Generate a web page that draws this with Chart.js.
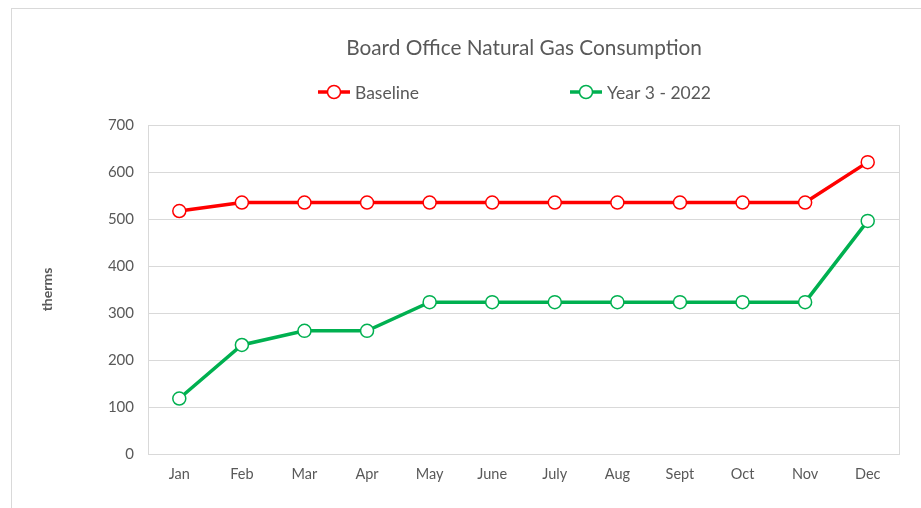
<!DOCTYPE html>
<html>
<head>
<meta charset="utf-8">
<script src="https://cdn.jsdelivr.net/npm/chart.js@4/dist/chart.umd.min.js"></script>
<style>
    body { margin: 0; background: #fff; overflow: hidden; width: 921px; height: 508px; position: relative; }
    #wrap { position: absolute; left: 11px; top: 8px; width: 1025px; height: 510px; border-left: 1px solid #d9d9d9; border-top: 1px solid #d9d9d9; }
    #chart { display: block; }
</style>
</head>
<body>
<div id="wrap"><canvas id="chart" width="1024" height="499"></canvas></div>

<script>
let months = ['Jan', 'Feb', 'Mar', 'Apr', 'May', 'June', 'July', 'Aug', 'Sept', 'Oct', 'Nov', 'Dec'];
let baseline = [517, 535, 535, 535, 535, 535, 535, 535, 535, 535, 535, 621];
let year3 = [118, 232, 262, 262, 323, 323, 323, 323, 323, 323, 323, 496];
let seriesNames = ['Baseline', 'Year 3 - 2022'];
let seriesColors = ['#ff0000', '#00b050'];
let yTicks = [0, 100, 200, 300, 400, 500, 600, 700];

const FONT = 'Lato, "Open Sans", sans-serif';
const GREY = '#595959';


// title, legend and the right border of the plot area
const decorPlugin = {
    id: 'decor',
    afterDraw(chart) {
        const ctx = chart.ctx;
        const area = chart.chartArea;
        ctx.save();
        ctx.strokeStyle = '#d9d9d9';
        ctx.lineWidth = 1;
        ctx.beginPath();
        ctx.moveTo(Math.round(area.right) + 0.5, area.top);
        ctx.lineTo(Math.round(area.right) + 0.5, area.bottom);
        ctx.stroke();

        ctx.fillStyle = GREY;
        ctx.font = '20.8px ' + FONT;
        ctx.textAlign = 'center';
        ctx.textBaseline = 'middle';
        ctx.fillText('Board Office Natural Gas Consumption', 512, 39);

        drawLegendItem(ctx, 306, 83, seriesColors[0], seriesNames[0]);
        drawLegendItem(ctx, 558, 83, seriesColors[1], seriesNames[1]);
        ctx.restore();
    }
};


function drawLegendItem(ctx, x, y, color, text) {
    ctx.strokeStyle = color;
    ctx.lineWidth = 3.5;
    ctx.beginPath();
    ctx.moveTo(x, y);
    ctx.lineTo(x + 32, y);
    ctx.stroke();
    ctx.beginPath();
    ctx.arc(x + 16, y, 6.5, 0, Math.PI * 2);
    ctx.fillStyle = '#fff';
    ctx.fill();
    ctx.lineWidth = 1.5;
    ctx.stroke();
    ctx.fillStyle = GREY;
    ctx.font = '17.5px ' + FONT;
    ctx.textAlign = 'left';
    ctx.textBaseline = 'middle';
    ctx.fillText(text, x + 37, y + 1);
}


function makeDataset(label, values, color) {
    return {
        label: label,
        data: values,
        borderColor: color,
        borderWidth: 3.5,
        pointRadius: 6.5,
        pointHoverRadius: 6.5,
        pointBackgroundColor: '#fff',
        pointBorderColor: color,
        pointBorderWidth: 1.5,
        tension: 0
    };
}


function init() {
    const ctx = document.getElementById('chart').getContext('2d');
    new Chart(ctx, {
        type: 'line',
        data: {
            labels: months,
            datasets: [
                makeDataset(seriesNames[0], baseline, seriesColors[0]),
                makeDataset(seriesNames[1], year3, seriesColors[1])
            ]
        },
        options: {
            responsive: false,
            animation: false,
            layout: { padding: { top: 116, right: 137, left: 0, bottom: 0 } },
            plugins: {
                legend: { display: false },
                title: { display: false },
                tooltip: { enabled: false }
            },
            scales: {
                x: {
                    offset: true,
                    grid: { display: false, drawTicks: false },
                    border: { display: true, color: '#d9d9d9', width: 1 },
                    ticks: { color: GREY, font: { family: FONT, size: 14.5 }, padding: 12 },
                    afterFit(scale) { scale.height = 54; }
                },
                y: {
                    min: yTicks[0],
                    max: yTicks[yTicks.length - 1],
                    afterBuildTicks(scale) { scale.ticks = yTicks.map(v => ({ value: v })); },
                    grid: { color: '#d9d9d9', lineWidth: 1, drawTicks: false },
                    border: { display: true, color: '#d9d9d9', width: 1 },
                    ticks: { color: GREY, font: { family: FONT, size: 15 }, padding: 14 },
                    title: {
                        display: true,
                        text: 'therms',
                        color: GREY,
                        font: { family: FONT, size: 14, weight: 'bold' },
                        padding: { top: 27, bottom: 0 }
                    },
                    afterFit(scale) { scale.width = 136; }
                }
            }
        },
        plugins: [decorPlugin]
    });
}

init();
</script>
</body>
</html>
